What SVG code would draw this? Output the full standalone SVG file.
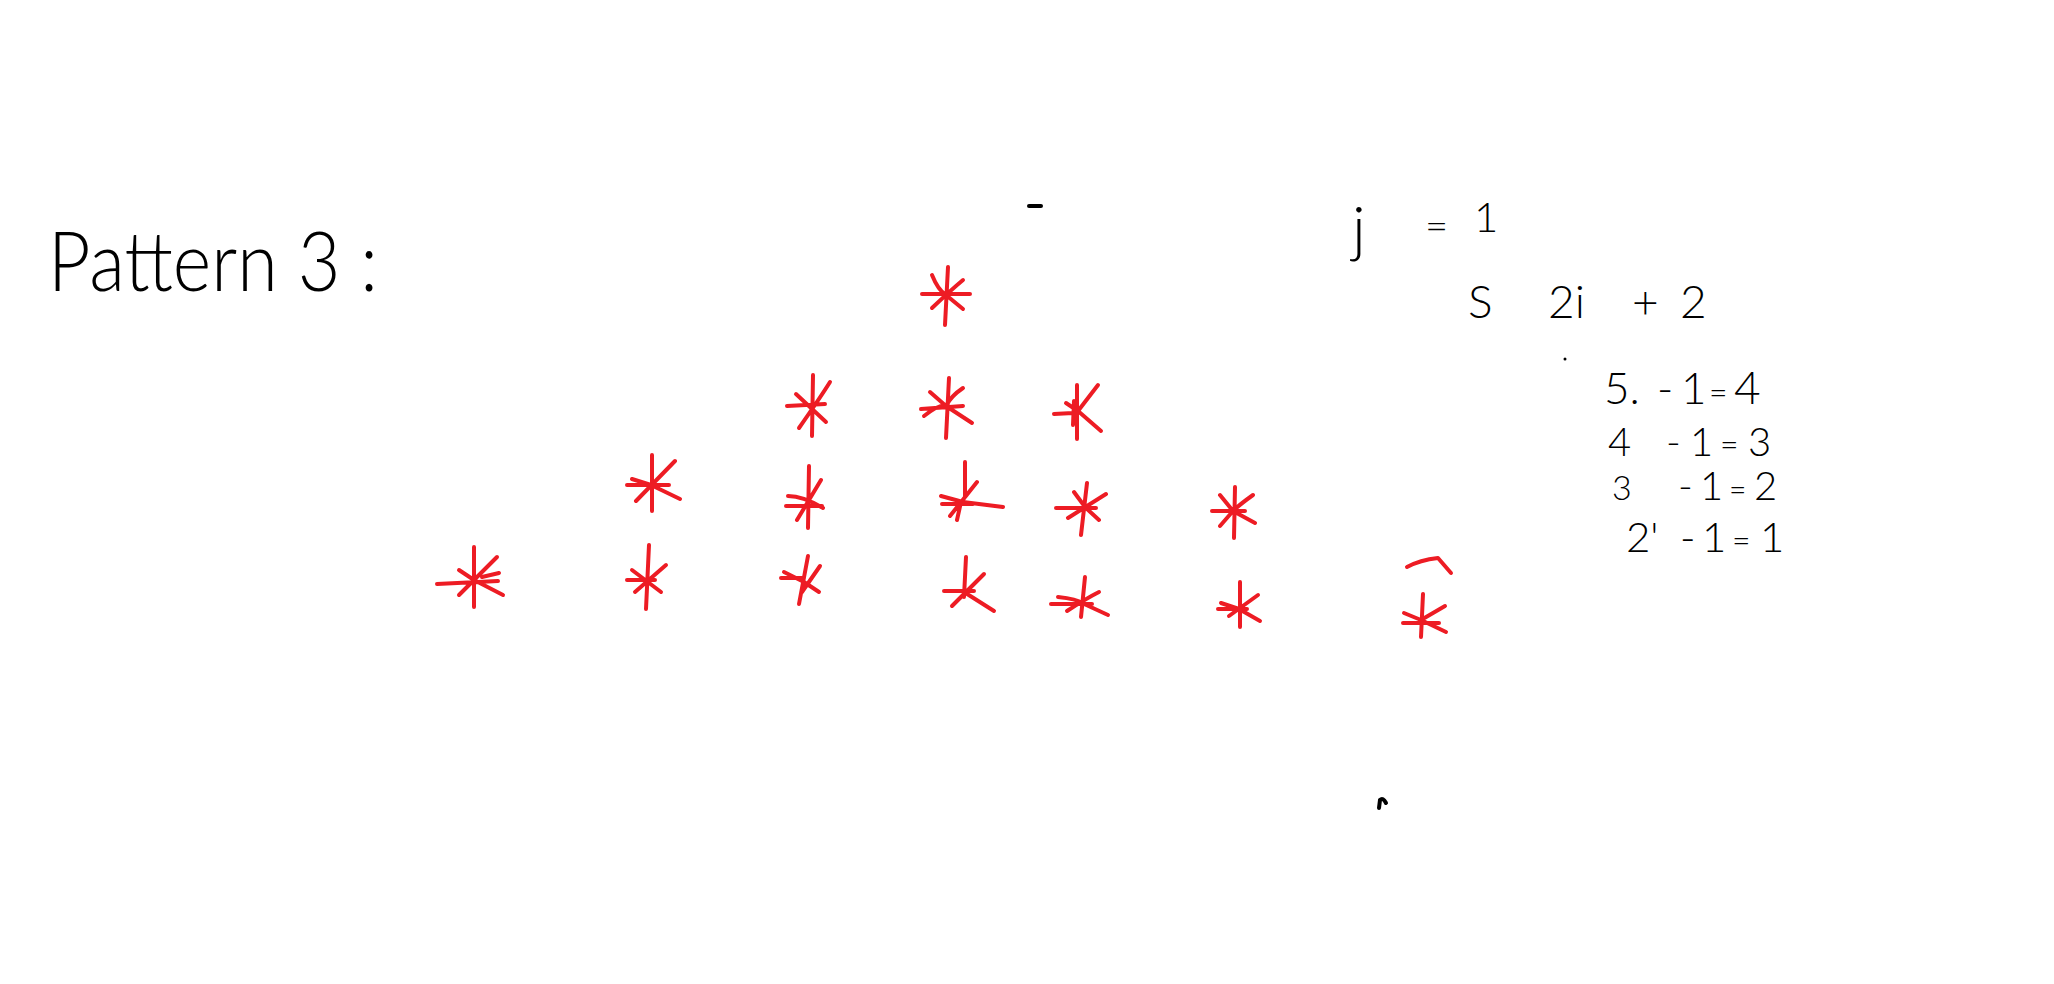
<svg xmlns="http://www.w3.org/2000/svg" width="2054" height="984" viewBox="0 0 2054 984">
<style>
.s{fill:none;stroke:#ED1C24;stroke-width:4;stroke-linecap:round;stroke-linejoin:round}
.t{font-family:"Lato","Liberation Sans",sans-serif;font-weight:300;fill:#000}
.k{fill:none;stroke:#000;stroke-width:4;stroke-linecap:round}
</style>
<rect width="2054" height="984" fill="#fff"/>
<g id="title"><text class="t" x="48" y="291" font-size="82" textLength="330" lengthAdjust="spacingAndGlyphs">Pattern 3 :</text></g>
<g id="stars">
<path class="s" transform="translate(946,295)" d="M-24,-1 L24,-1 M2,-28 L-1,30 M-14,-20 Q-8,-5 0,0 L17,14 M17,-15 Q5,-5 -14,13"/>
<path class="s" transform="translate(812,406)" d="M-25,0 L13,-2 M1,-31 L0,30 M-16,-12 L14,16 M18,-24 Q8,-8 -13,22"/>
<path class="s" transform="translate(946,406)" d="M-25,3 L17,0 M3,-28 L0,32 M-22,10 Q-5,-3 0,0 M-16,-14 L0,0 L26,17 M17,-18 Q5,-10 0,0"/>
<path class="s" transform="translate(1078,411)" d="M-24,3 L-5,2 M-1,-26 L-1,28 M-4,-10 L-5,14 M20,-26 L0,0 L23,20 M-12,-8 L0,0"/>
<path class="s" transform="translate(651,485)" d="M-24,0 L18,0 M1,-30 L1,26 M-19,-6 L0,0 L29,14 M24,-24 L-15,16"/>
<path class="s" transform="translate(808,498)" d="M-22,8 L14,8 M1,-32 L0,30 M-20,-2 Q-5,-2 15,10 M13,-18 L-11,22"/>
<path class="s" transform="translate(963,502)" d="M-21,2 L10,2 M2,-40 L2,-5 M-2,0 L-6,18 M-22,-6 L0,0 L40,5 M14,-20 L-13,14"/>
<path class="s" transform="translate(1086,508)" d="M-30,0 L10,0 M1,-25 L-5,27 M-12,-16 Q-4,-5 0,0 L13,12 M20,-14 L-18,10"/>
<path class="s" transform="translate(1233,511)" d="M-21,0 L12,0 M2,-24 L1,27 M-13,-16 L0,0 M20,-16 Q6,-6 0,0 L22,12 M-13,15 L0,0"/>
<path class="s" transform="translate(474,580)" d="M-37,4 L24,1 M0,-33 L0,27 M-15,-10 L0,0 L29,15 M23,-23 L-15,15 M25,-7 L8,-3"/>
<path class="s" transform="translate(646,580)" d="M-19,0 L9,0 M3,-35 L0,29 M-14,-10 L15,12 M20,-15 L-11,12"/>
<path class="s" transform="translate(804,580)" d="M-23,-2 L0,-2 M4,-24 L-5,24 M-20,-8 L0,2 L15,12 M16,-14 L-2,12"/>
<path class="s" transform="translate(964,592)" d="M-20,-1 L10,-1 M2,-35 L0,5 M20,-18 L-12,14 M0,0 L30,19"/>
<path class="s" transform="translate(1082,603)" d="M-31,1 L10,1 M3,-26 L-1,14 M-24,-6 Q-5,-4 0,0 L26,12 M17,-11 Q5,-5 -15,8"/>
<path class="s" transform="translate(1239,609)" d="M-21,0 L8,0 M1,-27 L1,18 M-18,-6 L0,0 L21,12 M19,-14 L-10,7"/>
<path class="s" transform="translate(1421,620)" d="M-18,3 L18,3 M2,-26 L0,17 M-17,-7 L0,0 L25,12 M24,-14 L0,0"/>
<path class="s" d="M1407,567 Q1420,560 1438,558 L1451,573"/>
</g>
<g id="notes">
<path class="k" d="M1029,206 L1041,206"/>
<text class="t" x="1352" y="250" font-size="62">j</text>
<text class="t" x="1425" y="240" font-size="40">=</text>
<text class="t" x="1474" y="232" font-size="42">1</text>
<text class="t" font-size="46" y="318"><tspan x="1468">S</tspan><tspan x="1548">2i</tspan><tspan x="1632">+</tspan><tspan x="1680">2</tspan></text>
<circle cx="1565" cy="359" r="1.5" fill="#000"/>
<text class="t" font-size="44" y="404"><tspan x="1604">5.</tspan><tspan x="1657">-</tspan><tspan x="1681">1</tspan><tspan x="1709" font-size="32">=</tspan><tspan x="1734" font-size="46">4</tspan></text>
<text class="t" font-size="40" y="456"><tspan x="1608">4</tspan><tspan x="1666">-</tspan><tspan x="1690">1</tspan><tspan x="1720" font-size="32">=</tspan><tspan x="1748">3</tspan></text>
<text class="t" font-size="34" y="500"><tspan x="1612">3</tspan><tspan x="1678" font-size="40">-</tspan><tspan x="1700" font-size="40">1</tspan><tspan x="1729" font-size="30">=</tspan><tspan x="1754" font-size="40">2</tspan></text>
<text class="t" font-size="42" y="552"><tspan x="1626">2'</tspan><tspan x="1680">-</tspan><tspan x="1702">1</tspan><tspan x="1732" font-size="32">=</tspan><tspan x="1760">1</tspan></text>
<path class="k" d="M1379,808 L1380,800 Q1383,797 1386,803"/>
</g>
</svg>
